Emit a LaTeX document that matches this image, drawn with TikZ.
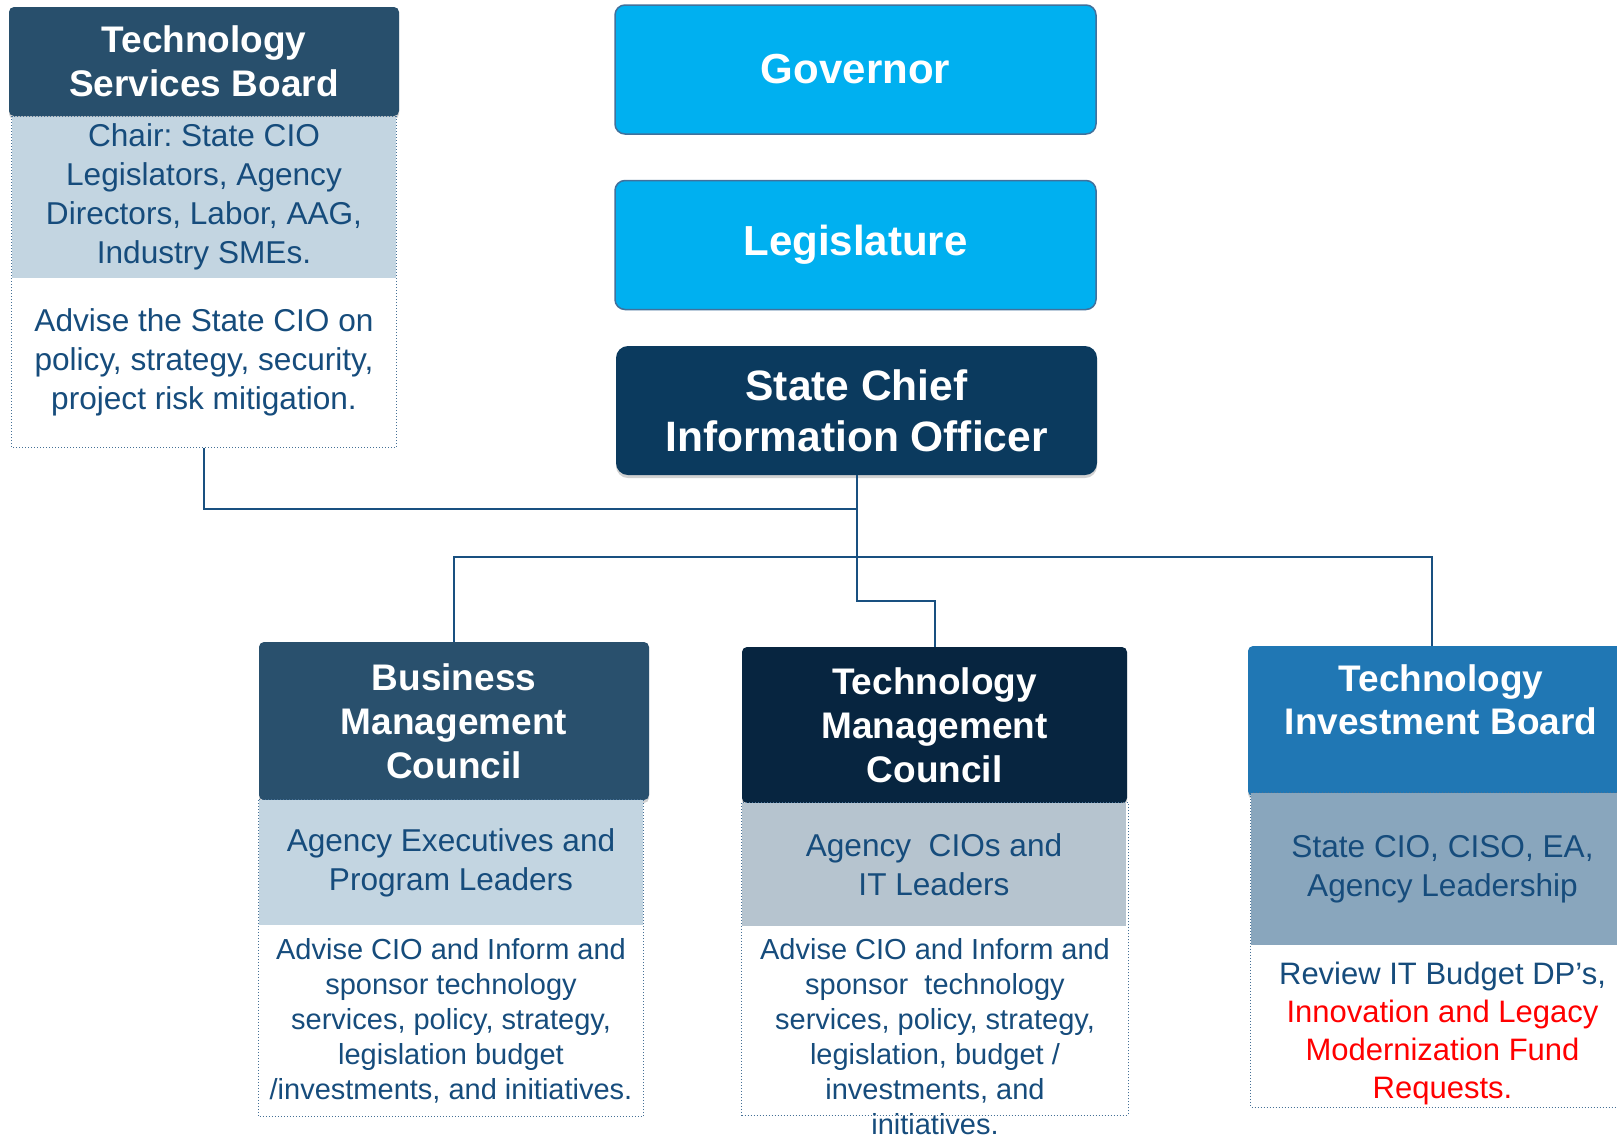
\documentclass[tikz,border=0pt]{standalone}
\usepackage{fontspec}
\setmainfont{Liberation Sans}
\usetikzlibrary{shadows}
\frenchspacing
\definecolor{tsbblue}{RGB}{40,79,108}
\definecolor{bmcblue}{RGB}{41,80,109}
\definecolor{tmcnavy}{RGB}{7,37,64}
\definecolor{cionavy}{RGB}{11,58,94}
\definecolor{tibblue}{RGB}{32,119,180}
\definecolor{skyblue}{RGB}{0,176,240}
\definecolor{govedge}{RGB}{65,113,156}
\definecolor{paleband}{RGB}{195,213,225}
\definecolor{greyband}{RGB}{182,196,207}
\definecolor{steelband}{RGB}{137,166,189}
\definecolor{txtblue}{RGB}{22,76,124}
\definecolor{wireblue}{RGB}{25,80,128}
\begin{document}
\begin{tikzpicture}[x=1pt,y=-1pt,
  boardhead/.style={rectangle,rounded corners=5pt,text=white,align=center,inner sep=0pt,
    font=\bfseries\fontsize{37}{44}\selectfont,
    drop shadow={shadow xshift=0pt,shadow yshift=-3pt,opacity=0.35}},
  topbox/.style={rectangle,rounded corners=10pt,draw=govedge,line width=1.5pt,fill=skyblue,
    text=white,inner sep=0pt,minimum width=481,minimum height=129,
    font=\bfseries\fontsize{42}{50}\selectfont},
  boardband/.style={rectangle,inner sep=0pt,align=center,text=txtblue,
    font=\fontsize{31.6}{39}\selectfont},
  boardnote/.style={rectangle,inner sep=0pt,align=center,text=txtblue,
    font=\fontsize{29}{35}\selectfont},
  dotframe/.style={draw=txtblue!80,dotted,line width=1pt},
  wire/.style={draw=wireblue,line width=2pt}]
  \useasboundingbox[fill=white] (0,0) rectangle (1617,1136);

  % top of the chart
  \node[topbox] (gov) at (855.5,69.5) {Governor};
  \node[topbox] (leg) at (855.5,245) {Legislature};
  \node[boardhead,fill=cionavy,rounded corners=12pt,minimum width=481,minimum height=129,
    font=\bfseries\fontsize{42.5}{51}\selectfont] (cio) at (856.5,410.5) {State Chief\\Information Officer};

  % technology services board
  \node[boardhead,fill=tsbblue,minimum width=390,minimum height=109,
    font=\bfseries\fontsize{37}{44}\selectfont] (tsb) at (204,61.5) {Technology\\Services Board};
  \node[boardband,fill=paleband,minimum width=384,minimum height=161] (tsbband) at (204,197)
    {Chair: State CIO\\Legislators, Agency\\Directors, Labor, AAG,\\Industry SMEs.};
  \node[boardnote,minimum width=384,minimum height=171,font=\fontsize{31.6}{39}\selectfont] (tsbnote) at (204,362)
    {Advise the State CIO on\\policy, strategy, security,\\project risk mitigation.};

  % business management council
  \node[boardhead,fill=bmcblue,minimum width=390,minimum height=158] (bmc) at (454,721)
    {Business\\Management\\Council};
  \node[boardband,fill=paleband,minimum width=384,minimum height=125] (bmcband) at (451,862.5)
    {Agency Executives and\\Program Leaders};
  \node[boardnote,minimum width=384,minimum height=191] (bmcnote) at (451,1021)
    {Advise CIO and Inform and\\sponsor technology\\services, policy, strategy,\\legislation budget\\/investments, and initiatives.};

  % technology management council
  \node[boardhead,fill=tmcnavy,minimum width=385,minimum height=156] (tmc) at (934.5,725)
    {Technology\\Management\\Council};
  \node[boardband,fill=greyband,minimum width=384,minimum height=123] (tmcband) at (934,864.5)
    {Agency~ CIOs and\\IT Leaders};
  \node[boardnote,minimum width=384] (tmcnote) at (935,1037)
    {Advise CIO and Inform and\\sponsor~ technology\\services, policy, strategy,\\legislation, budget /\\investments, and\\initiatives.};
  \coordinate (tmcfoot) at (1128,1115);

  % technology investment board
  \node[boardhead,fill=tibblue,minimum width=386,minimum height=150,
    font=\bfseries\fontsize{37}{43}\selectfont] (tib) at (1441,721)
    {Technology\\Investment Board\\\mbox{}};
  \node[boardband,fill=steelband,minimum width=383,minimum height=152] (tibband) at (1442.5,869)
    {State CIO, CISO, EA,\\Agency Leadership};
  \node[boardnote,minimum width=383,minimum height=162,font=\fontsize{31}{38}\selectfont] (tibnote) at (1442.5,1033)
    {Review IT Budget DP’s,\\{\color{red}Innovation and Legacy}\\{\color{red}Modernization Fund}\\{\color{red}Requests.}};

  \draw[dotframe] (tsbband.north west) rectangle (tsbnote.south east);
  \draw[dotframe] (bmcband.north west) rectangle (bmcnote.south east);
  \draw[dotframe] (tmcband.north west) rectangle (tmcfoot);
  \draw[dotframe] (tibband.north west) rectangle (1634,1107);

  \coordinate (tsbjoin) at (cio.south |- 0,509);
  \coordinate (tmcjog) at (cio.south |- 0,601);
  \coordinate (tibtop) at ([xshift=-9pt]tib.north);
  \coordinate (busright) at (tibtop |- 0,557);

  \draw[wire] (tsbnote.south) |- (tsbjoin);
  \draw[wire] (cio.south) -- (tmcjog) -| (tmc.north);
  \draw[wire] (bmc.north) |- (busright) -- (tibtop);
\end{tikzpicture}
\end{document}
